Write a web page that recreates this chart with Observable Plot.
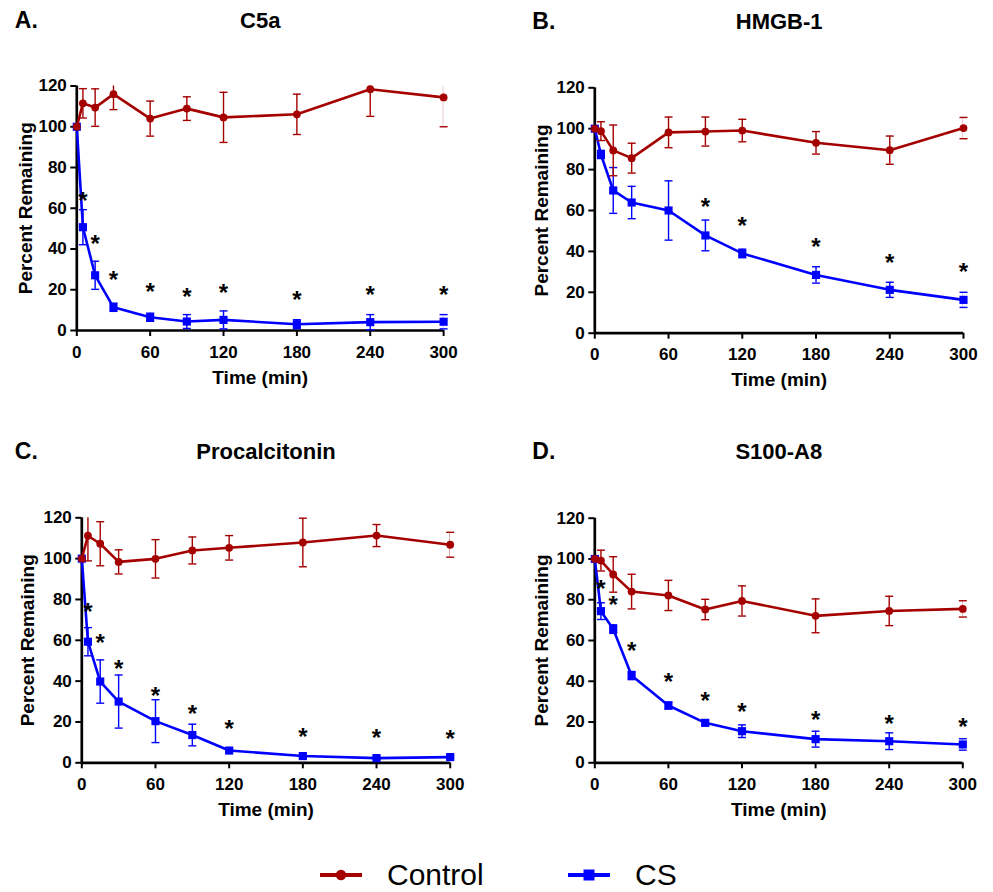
<!DOCTYPE html>
<html>
<head>
<meta charset="utf-8">
<script src="https://cdn.jsdelivr.net/npm/d3@7"></script>
<script src="https://cdn.jsdelivr.net/npm/@observablehq/plot@0.6"></script>
<style>
  html, body { margin: 0; padding: 0; background: #fff; }
  #root { position: relative; width: 993px; height: 892px; overflow: hidden; background: #fff;
          font-family: Arial, "Liberation Sans", Helvetica, sans-serif; }
  .pan { position: absolute; }
  .legend { position: absolute; top: 858px; height: 34px; display: flex; align-items: center; }
  .legend span { font-size: 30px; color: #000; line-height: 34px; }
</style>
</head>
<body>
<div id="root"></div>
<script>
// ---------- data ----------
const times = [0, 5, 15, 30, 60, 90, 120, 180, 240, 300];
const xTicks = [0, 60, 120, 180, 240, 300];
const yTicks = [0, 20, 40, 60, 80, 100, 120];

// A. C5a
const c5aControl    = [100, 111.5, 109.4, 116.0, 104.0, 108.9, 104.6, 106.1, 118.4, 114.4];
const c5aControlErr = [0, 7.2, 9.2, 7.6, 8.6, 5.8, 12.3, 9.9, 13.3, 14.4];
const c5aCS         = [100, 50.7, 27.1, 11.4, 6.5, 4.4, 5.2, 3.1, 4.1, 4.3];
const c5aCSErr      = [0, 8.6, 6.9, 2.0, 2.0, 3.4, 4.4, 2.2, 3.7, 3.5];
const c5aStarTimes  = [5, 15, 30, 60, 90, 120, 180, 240, 300];
const c5aStarLevels = [66.2, 45.4, 27.5, 21.7, 19.3, 21.3, 18.0, 20.1, 20.1];

// B. HMGB-1
const hmgbControl    = [100, 98.8, 89.4, 85.6, 98.2, 98.6, 99.1, 93.1, 89.5, 100.3];
const hmgbControlErr = [0, 4.6, 12.4, 7.3, 7.5, 7.1, 5.5, 5.5, 6.9, 5.2];
const hmgbCS         = [100, 87.4, 69.8, 63.9, 60.0, 47.8, 39.0, 28.5, 21.2, 16.3];
const hmgbCSErr      = [0, 2.0, 11.2, 7.9, 14.5, 7.5, 2.1, 4.0, 3.7, 3.7];
const hmgbStarTimes  = [90, 120, 180, 240, 300];
const hmgbStarLevels = [64.4, 55.1, 45.0, 37.2, 32.6];

// C. Procalcitonin
const pctControl    = [100, 111.2, 107.3, 98.4, 99.9, 104.0, 105.3, 107.9, 111.3, 106.8];
const pctControlErr = [0, 12.3, 10.8, 5.9, 9.4, 6.6, 6.0, 11.9, 5.4, 6.1];
const pctCS         = [100, 59.3, 39.8, 30.0, 20.4, 13.6, 6.0, 3.3, 2.3, 2.8];
const pctCSErr      = [0, 6.9, 10.6, 13.0, 10.5, 5.3, 0.8, 0.8, 0.6, 0.6];
const pctStarTimes  = [5, 15, 30, 60, 90, 120, 180, 240, 300];
const pctStarLevels = [76.6, 61.5, 48.5, 35.4, 26.8, 19.1, 15.5, 15.0, 14.5];

// D. S100-A8
const s100Control    = [100, 99.2, 92.4, 84.0, 82.1, 75.2, 79.4, 72.1, 74.5, 75.5];
const s100ControlErr = [0, 5.1, 8.7, 8.5, 7.4, 5.0, 7.4, 8.3, 7.2, 4.0];
const s100CS         = [100, 74.4, 65.6, 42.8, 28.1, 19.6, 15.5, 11.6, 10.6, 9.0];
const s100CSErr      = [0, 4.1, 2.1, 2.0, 1.7, 1.3, 3.1, 3.9, 4.1, 2.8];
const s100StarTimes  = [5, 15, 30, 60, 90, 120, 180, 240, 300];
const s100StarLevels = [88.1, 80.1, 57.4, 42.3, 33.0, 27.6, 24.0, 21.9, 20.3];

const seriesNames = ["Control", "CS"];
const seriesColors = ["#a50000", "#0000ff"];

// ---------- drawing ----------
const FONT = 'Arial, "Liberation Sans", Helvetica, sans-serif';
const RED = seriesColors[0], BLUE = seriesColors[1];
const capSymbol = { draw(ctx) { ctx.moveTo(-4, 0); ctx.lineTo(4, 0); } };

function rows(vals, errs) {
  return times.map((t, i) => ({ t, v: vals[i], e: errs[i], lo: vals[i] - errs[i], hi: vals[i] + errs[i] }));
}
function caps(rs) {
  const out = [];
  for (const d of rs) if (d.e > 0) { out.push({ t: d.t, y: d.lo }); out.push({ t: d.t, y: d.hi }); }
  return out.filter(d => d.y >= 0 && d.y <= 120);
}
function seriesMarks(rs, color, symbol, r) {
  return [
    Plot.ruleX(rs.filter(d => d.e > 0), { x: "t", y1: "lo", y2: "hi", stroke: color, strokeWidth: 1.4, clip: true }),
    Plot.dot(caps(rs), { x: "t", y: "y", symbol: capSymbol, fill: "none", stroke: color, strokeWidth: 1.4 }),
    Plot.line(rs, { x: "t", y: "v", stroke: color, strokeWidth: 2.6 }),
    Plot.dot(rs, { x: "t", y: "v", symbol, r, fill: color, stroke: null })
  ];
}

function panel(cfg) {
  const C = rows(cfg.ctrl, cfg.ctrlErr), S = rows(cfg.cs, cfg.csErr);
  const stars = cfg.starT.map((t, i) => ({ t, y: cfg.starY[i] }));
  const W = cfg.svgW;
  return Plot.plot({
    width: W, height: 400,
    marginLeft: cfg.ml, marginRight: W - cfg.ml - cfg.pw,
    marginTop: cfg.mt, marginBottom: 400 - cfg.mt - cfg.ph,
    x: { domain: [0, 300] },
    y: { domain: [0, 120] },
    style: { fontFamily: FONT, fontSize: "17px", fontWeight: "bold", color: "#000", background: "transparent", overflow: "visible" },
    marks: [
      Plot.axisX({ ticks: xTicks, tickSize: 6, tickPadding: 9, strokeWidth: 2, fontSize: 17, fontWeight: "bold", label: null }),
      Plot.axisY({ ticks: yTicks, tickSize: 6, tickPadding: 4, strokeWidth: 2, fontSize: 17, fontWeight: "bold", label: null }),
      Plot.ruleX([0], { stroke: "#000", strokeWidth: 2.7 }),
      Plot.ruleY([0], { stroke: "#000", strokeWidth: 2.7 }),
      ...seriesMarks(S, BLUE, "square", 4.6),
      ...seriesMarks(C, RED, "circle", 3.9),
      Plot.text(stars, { x: "t", y: "y", text: () => "*", fontSize: 24, fontWeight: "bold", fill: "#000", lineAnchor: "middle", dy: 6 }),
      Plot.text([cfg.title], { frameAnchor: "top", dy: cfg.titleDy, textAnchor: "middle", lineAnchor: "bottom", fontSize: 22, fontWeight: "bold", fill: "#000" }),
      Plot.text([cfg.letter], { frameAnchor: "top-left", dx: cfg.letterDx, dy: cfg.titleDy, textAnchor: "start", lineAnchor: "bottom", fontSize: 23, fontWeight: "bold", fill: "#000" }),
      Plot.text(["Percent Remaining"], { frameAnchor: "left", dx: cfg.ylabDx, rotate: -90, textAnchor: "middle", lineAnchor: "middle", fontSize: 19, fontWeight: "bold", fill: "#000" }),
      Plot.text(["Time (min)"], { frameAnchor: "bottom", dy: 47, textAnchor: "middle", lineAnchor: "middle", fontSize: 19, fontWeight: "bold", fill: "#000" })
    ]
  });
}

const root = document.getElementById("root");
const panels = [
  { left: 0,   top: 0,   svgW: 490, ml: 76.3, pw: 366.8, mt: 85.5, ph: 244.5, letter: "A.", title: "C5a",
    ctrl: c5aControl, ctrlErr: c5aControlErr, cs: c5aCS, csErr: c5aCSErr, starT: c5aStarTimes, starY: c5aStarLevels,
    titleDy: -58, letterDx: -62, ylabDx: -51 },
  { left: 500, top: 0,   svgW: 493, ml: 94.3, pw: 368.7, mt: 87.3, ph: 245.4, letter: "B.", title: "HMGB-1",
    ctrl: hmgbControl, ctrlErr: hmgbControlErr, cs: hmgbCS, csErr: hmgbCSErr, starT: hmgbStarTimes, starY: hmgbStarLevels,
    titleDy: -59, letterDx: -62.5, ylabDx: -53 },
  { left: 0,   top: 430, svgW: 490, ml: 81.3, pw: 368.4, mt: 87.3, ph: 245.0, letter: "C.", title: "Procalcitonin",
    ctrl: pctControl, ctrlErr: pctControlErr, cs: pctCS, csErr: pctCSErr, starT: pctStarTimes, starY: pctStarLevels,
    titleDy: -59, letterDx: -67, ylabDx: -54 },
  { left: 500, top: 430, svgW: 493, ml: 94.3, pw: 368.0, mt: 87.7, ph: 244.6, letter: "D.", title: "S100-A8",
    ctrl: s100Control, ctrlErr: s100ControlErr, cs: s100CS, csErr: s100CSErr, starT: s100StarTimes, starY: s100StarLevels,
    titleDy: -59, letterDx: -62.5, ylabDx: -53 }
];
for (const p of panels) {
  const wrap = document.createElement("div");
  wrap.className = "pan";
  wrap.style.left = p.left + "px";
  wrap.style.top = p.top + "px";
  wrap.appendChild(panel(p));
  root.appendChild(wrap);
}

// legend
const legendItems = [
  { name: seriesNames[0], color: seriesColors[0], shape: "circle", left: 320 },
  { name: seriesNames[1], color: seriesColors[1], shape: "square", left: 568 }
];
for (const it of legendItems) {
  const div = document.createElement("div");
  div.className = "legend";
  div.style.left = it.left + "px";
  const marker = it.shape === "circle"
    ? `<circle cx="21" cy="17" r="5.2" fill="${it.color}"/>`
    : `<rect x="15.5" y="11.5" width="11" height="11" fill="${it.color}"/>`;
  div.innerHTML = `<svg width="42" height="34"><line x1="0" x2="42" y1="17" y2="17" stroke="${it.color}" stroke-width="4"/>${marker}</svg>` +
    `<span style="margin-left:25px">${it.name}</span>`;
  root.appendChild(div);
}
</script>
</body>
</html>
